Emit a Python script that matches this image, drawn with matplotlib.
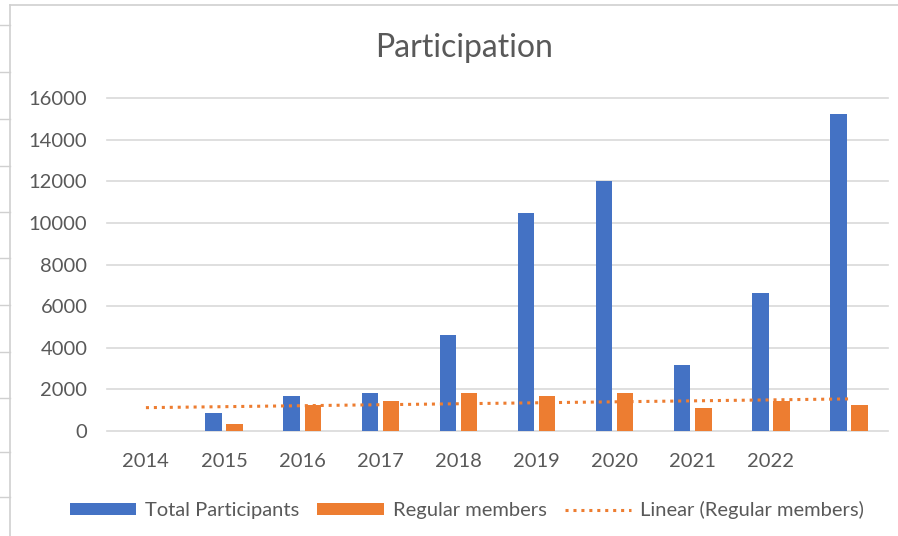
import matplotlib.pyplot as plt
import numpy as np
from matplotlib.lines import Line2D

# data
years = ["2014", "2015", "2016", "2017", "2018", "2019", "2020", "2021", "2022", ""]
total_participants = [0, 850, 1680, 1830, 4600, 10480, 12020, 3170, 6630, 15240]
regular_members = [0, 330, 1250, 1440, 1830, 1680, 1830, 1100, 1440, 1250]
trend_ends = [1120, 1540]  # linear trendline, first and last category

blue = "#4472C4"
orange = "#ED7D31"
grey_text = "#595959"
grid_col = "#D9D9D9"

plt.rcParams["font.family"] = ["Lato", "DejaVu Sans"]

fig = plt.figure(figsize=(8.98, 5.36), dpi=100)
ax = fig.add_axes([0.119, 0.196, 0.870, 0.621])

x = np.arange(len(years))
w = 0.21
b1 = ax.bar(x - 0.135, total_participants, width=w, color=blue, label="Total Participants", zorder=3)
b2 = ax.bar(x + 0.135, regular_members, width=w, color=orange, label="Regular members", zorder=3)
tl, = ax.plot([x[0], x[-1]], trend_ends, color=orange, linestyle=(0, (1, 1.6)), linewidth=2.2,
              label="Linear (Regular members)", zorder=4)

ax.set_xlim(-0.5, len(years) - 0.5)
ax.set_ylim(0, 16000)
ax.set_yticks(np.arange(0, 16001, 2000))
ax.set_xticks(x)
ax.set_xticklabels(years)
ax.yaxis.grid(True, color=grid_col, linewidth=1.2, zorder=0)
ax.set_axisbelow(True)
for s in ax.spines.values():
    s.set_visible(False)
ax.tick_params(axis="both", length=0, labelsize=14.5, labelcolor=grey_text)
ax.tick_params(axis="x", pad=16)
ax.tick_params(axis="y", pad=14)
for gl in ax.get_ygridlines():
    gl.set_clip_on(False)

fig.text(0.517, 0.91, "Participation", ha="center", va="center", fontsize=23, color=grey_text)

fig.legend(handles=[b1, b2, tl], loc="center", bbox_to_anchor=(0.52, 0.048), ncol=3,
           frameon=False, fontsize=14.5, handlelength=3.3, handleheight=0.5, columnspacing=0.9,
           handletextpad=0.45, labelcolor=grey_text)

# chart frame from the screenshot
fig.add_artist(Line2D([10 / 898, 1], [1 - 5 / 536, 1 - 5 / 536], color="#D0D0D0", lw=1.2))
fig.add_artist(Line2D([10 / 898, 10 / 898], [0, 1 - 5 / 536], color="#D0D0D0", lw=1.2))
for py in [25, 72, 119, 166, 212, 258, 305, 352, 398, 452, 497]:
    fig.add_artist(Line2D([0, 10 / 898], [1 - py / 536, 1 - py / 536], color="#D0D0D0", lw=1))

fig.savefig("out.png", dpi=100)
